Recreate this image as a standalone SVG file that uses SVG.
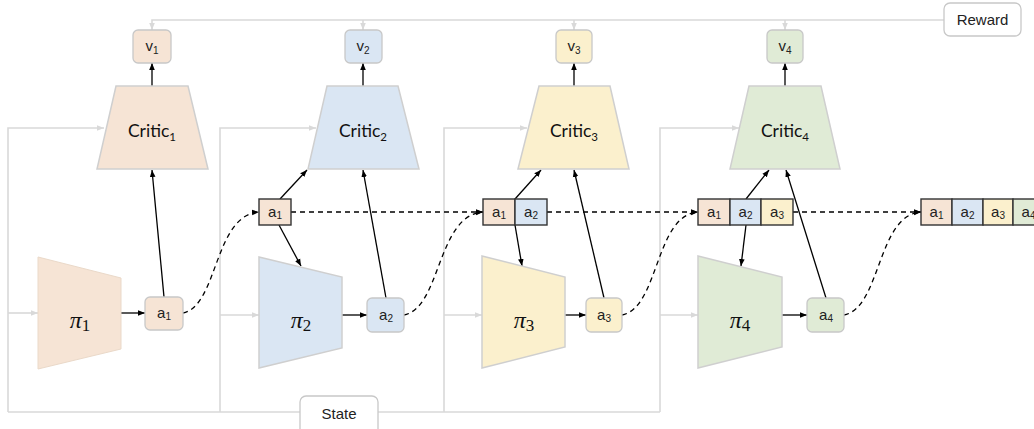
<svg xmlns="http://www.w3.org/2000/svg" width="1034" height="429" viewBox="0 0 1034 429">
<style>
.bus{fill:none;stroke:#d9d9d9;stroke-width:1.6}
.blk{fill:none;stroke:#000;stroke-width:1.3}
.dash{fill:none;stroke:#000;stroke-width:1.3;stroke-dasharray:5,4}
.shape{stroke:#cfcfcf;stroke-width:1.5}
.pk{fill:#f6e4d5}.bl{fill:#dae6f3}.yl{fill:#fbf0cd}.gr{fill:#e0ebd6}
.rb{stroke:#c8c8c8;stroke-width:1.3}
.cell{stroke:#333;stroke-width:1.4}
.sans{font-family:"Liberation Sans",Arial,sans-serif;fill:#222}
.lbl{font-family:"Liberation Sans",Arial,sans-serif;fill:#222;font-size:15px;text-anchor:middle}
.lbl tspan{font-size:10px}
.cal{font-family:Lato,"Open Sans",sans-serif;fill:#111;font-size:17.5px;text-anchor:middle}
.cal tspan{font-size:11.5px}
.pi{font-family:"Liberation Serif","DejaVu Serif",serif;font-style:italic;font-size:24px;fill:#111;text-anchor:middle}
.pi tspan{font-style:normal;font-size:17px}
.io{fill:#fff;stroke:#c8c8c8;stroke-width:1.3}
</style>
<defs>
<marker id="ab" viewBox="0 0 10 10" refX="10" refY="5" markerWidth="7" markerHeight="7" markerUnits="userSpaceOnUse" orient="auto"><path d="M0,1 L10,5 L0,9 z" fill="#000"/></marker>
<marker id="ag" viewBox="0 0 10 10" refX="10" refY="5" markerWidth="7" markerHeight="7" markerUnits="userSpaceOnUse" orient="auto"><path d="M0,1 L10,5 L0,9 z" fill="#d9d9d9"/></marker>
</defs>

<g id="connectors">
<path class="bus" d="M944,20 H152 V30" marker-end="url(#ag)"/>
<path class="bus" d="M363,20 V30" marker-end="url(#ag)"/>
<path class="bus" d="M574,20 V30" marker-end="url(#ag)"/>
<path class="bus" d="M785,20 V30" marker-end="url(#ag)"/>
<path class="bus" d="M8,412 H660"/>
<path class="bus" d="M8,412 V128 H104" marker-end="url(#ag)"/>
<path class="bus" d="M220,412 V128 H316" marker-end="url(#ag)"/>
<path class="bus" d="M444,412 V128 H527" marker-end="url(#ag)"/>
<path class="bus" d="M660,412 V128 H739" marker-end="url(#ag)"/>
<path class="bus" d="M8,313 H38" marker-end="url(#ag)"/>
<path class="bus" d="M220,315 H259" marker-end="url(#ag)"/>
<path class="bus" d="M444,315 H482" marker-end="url(#ag)"/>
<path class="bus" d="M660,315 H698" marker-end="url(#ag)"/>
<path class="blk" d="M152,86 V63" marker-end="url(#ab)"/>
<path class="blk" d="M363,86 V63" marker-end="url(#ab)"/>
<path class="blk" d="M574,86 V63" marker-end="url(#ab)"/>
<path class="blk" d="M785,86 V63" marker-end="url(#ab)"/>
<path class="blk" d="M121,313 H145" marker-end="url(#ab)"/>
<path class="blk" d="M342,315 H367" marker-end="url(#ab)"/>
<path class="blk" d="M565,315 H586" marker-end="url(#ab)"/>
<path class="blk" d="M782,315 H807" marker-end="url(#ab)"/>
<path class="blk" d="M164,297 L152,170" marker-end="url(#ab)"/>
<path class="blk" d="M386,298 L363,170" marker-end="url(#ab)"/>
<path class="blk" d="M604,298 L574,170" marker-end="url(#ab)"/>
<path class="blk" d="M826,298 L786,170" marker-end="url(#ab)"/>
<path class="blk" d="M280,199 L307,170" marker-end="url(#ab)"/>
<path class="blk" d="M515,199 L541,170" marker-end="url(#ab)"/>
<path class="blk" d="M746,199 L769,170" marker-end="url(#ab)"/>
<path class="blk" d="M279,225 L301,266" marker-end="url(#ab)"/>
<path class="blk" d="M515,225 L522,266" marker-end="url(#ab)"/>
<path class="blk" d="M746,225 L741,266" marker-end="url(#ab)"/>
<path class="dash" d="M291,212 H483" marker-end="url(#ab)"/>
<path class="dash" d="M547,212 H698" marker-end="url(#ab)"/>
<path class="dash" d="M793,212 H921" marker-end="url(#ab)"/>
<path class="dash" d="M183,313 C218,306 214,215 259,212" marker-end="url(#ab)"/>
<path class="dash" d="M404,315 C441,308 437,215 483,212" marker-end="url(#ab)"/>
<path class="dash" d="M622,315 C659,308 655,215 698,212" marker-end="url(#ab)"/>
<path class="dash" d="M844,315 C881,308 877,215 921,212" marker-end="url(#ab)"/>
</g>

<g id="reward">
<rect class="io" x="944" y="3" width="77" height="33" rx="6"/>
<text class="sans" x="982.5" y="25" font-size="15" text-anchor="middle">Reward</text>
</g>
<g id="state">
<rect class="io" x="300" y="396" width="78" height="40" rx="6"/>
<text class="sans" x="339" y="419" font-size="15" text-anchor="middle">State</text>
</g>

<g id="v1"><rect class="pk rb" x="133" y="30" width="38" height="33" rx="5"/><text class="lbl" x="152" y="51">v<tspan dy="3">1</tspan></text></g>
<g id="v2"><rect class="bl rb" x="345" y="30" width="37" height="33" rx="5"/><text class="lbl" x="363" y="51">v<tspan dy="3">2</tspan></text></g>
<g id="v3"><rect class="yl rb" x="556" y="30" width="36" height="33" rx="5"/><text class="lbl" x="574" y="51">v<tspan dy="3">3</tspan></text></g>
<g id="v4"><rect class="gr rb" x="767" y="30" width="36" height="33" rx="5"/><text class="lbl" x="785" y="51">v<tspan dy="3">4</tspan></text></g>

<g id="critic1"><polygon class="pk shape" points="116,86 188,86 208,169 97,169"/><text class="cal" x="152" y="137">Critic<tspan dy="4">1</tspan></text></g>
<g id="critic2"><polygon class="bl shape" points="327,86 398,86 419,169 308,169"/><text class="cal" x="363" y="137">Critic<tspan dy="4">2</tspan></text></g>
<g id="critic3"><polygon class="yl shape" points="539,86 610,86 629,169 518,169"/><text class="cal" x="574" y="137">Critic<tspan dy="4">3</tspan></text></g>
<g id="critic4"><polygon class="gr shape" points="749,86 821,86 840,169 730,169"/><text class="cal" x="785" y="137">Critic<tspan dy="4">4</tspan></text></g>

<g id="pi1"><polygon class="pk" points="38,257 121,278 121,349 38,369" stroke="#ead9c9" stroke-width="1"/><text class="pi" x="80" y="328">π<tspan dy="3">1</tspan></text></g>
<g id="pi2"><polygon class="bl shape" points="259,257 342,277 342,348 259,368"/><text class="pi" x="301" y="328">π<tspan dy="3">2</tspan></text></g>
<g id="pi3"><polygon class="yl shape" points="482,256 565,277 565,347 482,368"/><text class="pi" x="524" y="328">π<tspan dy="3">3</tspan></text></g>
<g id="pi4"><polygon class="gr shape" points="698,256 782,277 782,347 698,368"/><text class="pi" x="740" y="328">π<tspan dy="3">4</tspan></text></g>

<g id="a1"><rect class="pk rb" x="145" y="297" width="38" height="33" rx="5"/><text class="lbl" x="164" y="318">a<tspan dy="2">1</tspan></text></g>
<g id="a2"><rect class="bl rb" x="367" y="298" width="37" height="34" rx="5"/><text class="lbl" x="386" y="320">a<tspan dy="2">2</tspan></text></g>
<g id="a3"><rect class="yl rb" x="586" y="298" width="36" height="34" rx="5"/><text class="lbl" x="604" y="320">a<tspan dy="2">3</tspan></text></g>
<g id="a4"><rect class="gr rb" x="807" y="298" width="37" height="34" rx="5"/><text class="lbl" x="826" y="320">a<tspan dy="2">4</tspan></text></g>

<g id="seq2">
<rect class="pk cell" x="259" y="199" width="32" height="26"/><text class="lbl" x="275" y="217">a<tspan dy="2">1</tspan></text>
</g>
<g id="seq3">
<rect class="pk cell" x="483" y="199" width="32" height="26"/><text class="lbl" x="499" y="217">a<tspan dy="2">1</tspan></text>
<rect class="bl cell" x="515" y="199" width="32" height="26"/><text class="lbl" x="531" y="217">a<tspan dy="2">2</tspan></text>
</g>
<g id="seq4">
<rect class="pk cell" x="698" y="199" width="32" height="26"/><text class="lbl" x="714" y="217">a<tspan dy="2">1</tspan></text>
<rect class="bl cell" x="730" y="199" width="31" height="26"/><text class="lbl" x="745.5" y="217">a<tspan dy="2">2</tspan></text>
<rect class="yl cell" x="761" y="199" width="32" height="26"/><text class="lbl" x="777" y="217">a<tspan dy="2">3</tspan></text>
</g>
<g id="seq5">
<rect class="pk cell" x="921" y="199" width="31" height="26"/><text class="lbl" x="936.5" y="217">a<tspan dy="2">1</tspan></text>
<rect class="bl cell" x="952" y="199" width="31" height="26"/><text class="lbl" x="967.5" y="217">a<tspan dy="2">2</tspan></text>
<rect class="yl cell" x="983" y="199" width="30" height="26"/><text class="lbl" x="998" y="217">a<tspan dy="2">3</tspan></text>
<rect class="gr cell" x="1013" y="199" width="31" height="26"/><text class="lbl" x="1028.5" y="217">a<tspan dy="2">4</tspan></text>
</g>
</svg>
